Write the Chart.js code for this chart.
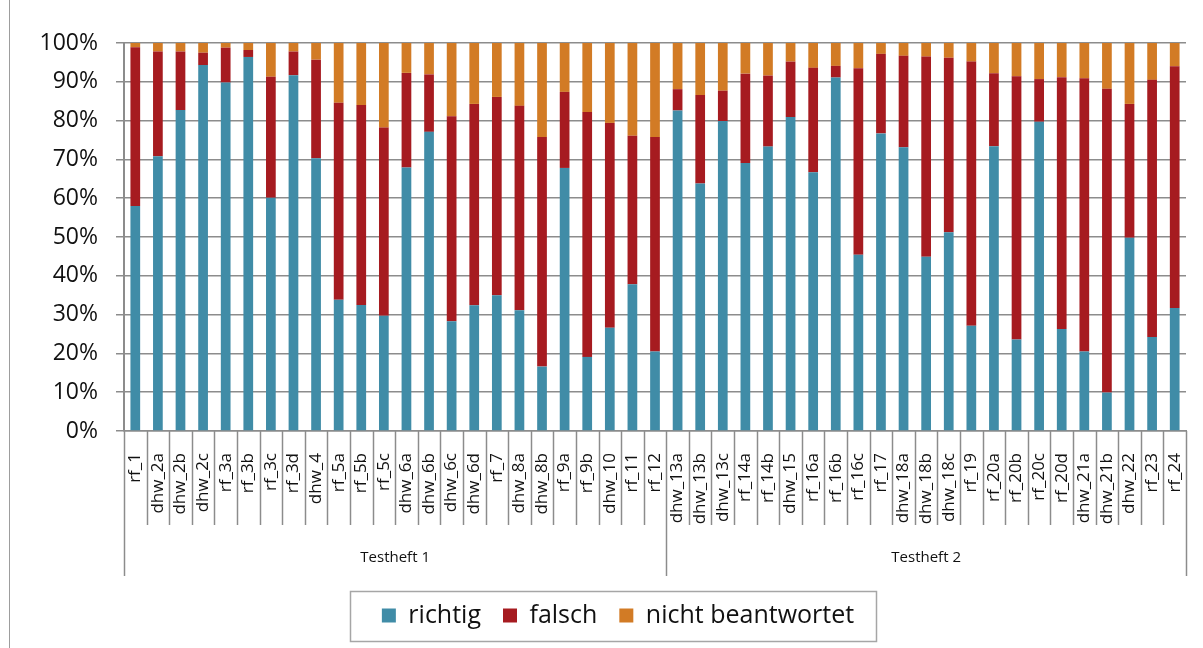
<!DOCTYPE html>
<html>
<head>
<meta charset="utf-8">
<script src="https://cdn.jsdelivr.net/npm/chart.js@4"></script>
<style>
  html, body { margin: 0; padding: 0; background: #fff; }
  #wrap { position: relative; width: 1203px; height: 648px; }
  #frame { position: absolute; left: 9px; top: 0; width: 0; height: 648px; border-left: 1px solid #9d9d9d; }
  canvas { position: absolute; left: 0; top: 0; }
</style>
</head>
<body>
<div id="wrap">
  <div id="frame"></div>
  <canvas id="chart" width="1203" height="648"></canvas>
</div>
<script>
// Aufgaben (Kategorien)
const categories = [
    'rf_1', 'dhw_2a', 'dhw_2b', 'dhw_2c', 'rf_3a', 'rf_3b', 'rf_3c', 'rf_3d', 'dhw_4',
    'rf_5a', 'rf_5b', 'rf_5c', 'dhw_6a', 'dhw_6b', 'dhw_6c', 'dhw_6d', 'rf_7', 'dhw_8a',
    'dhw_8b', 'rf_9a', 'rf_9b', 'dhw_10', 'rf_11', 'rf_12',
    'dhw_13a', 'dhw_13b', 'dhw_13c', 'rf_14a', 'rf_14b', 'dhw_15', 'rf_16a', 'rf_16b',
    'rf_16c', 'rf_17', 'dhw_18a', 'dhw_18b', 'dhw_18c', 'rf_19', 'rf_20a', 'rf_20b',
    'rf_20c', 'rf_20d', 'dhw_21a', 'dhw_21b', 'dhw_22', 'rf_23', 'rf_24'
];

// Testhefte (zweite Achsenebene)
const groups = ['Testheft 1', 'Testheft 2'];
const groupSizes = [24, 23];

// Anteile in %
const richtig = [
    58.0, 70.8, 82.7, 94.3, 89.8, 96.4, 60.1, 91.7, 70.3,
    33.8, 32.5, 29.7, 67.9, 77.1, 28.3, 32.4, 35.0, 31.1,
    16.6, 67.8, 19.1, 26.6, 37.8, 20.5,
    82.6, 63.8, 79.9, 69.1, 73.3, 80.9, 66.7, 91.1,
    45.4, 76.7, 73.1, 44.9, 51.2, 27.1, 73.4, 23.6,
    79.7, 26.3, 20.5, 9.9, 49.8, 24.2, 31.7
];
const falsch = [
    40.9, 27.0, 15.1, 3.2, 9.0, 1.8, 31.2, 6.1, 25.4,
    50.8, 51.5, 48.5, 24.4, 14.8, 52.8, 51.9, 51.1, 52.7,
    59.2, 19.6, 63.1, 52.8, 38.3, 55.3,
    5.5, 22.8, 7.8, 23.0, 18.3, 14.3, 26.9, 3.0,
    48.1, 20.5, 23.6, 51.6, 45.0, 68.1, 18.8, 67.8,
    11.0, 64.9, 70.4, 78.3, 34.5, 66.3, 62.3
];
const nichtBeantwortet = [
    1.1, 2.2, 2.2, 2.5, 1.2, 1.8, 8.7, 2.2, 4.3,
    15.4, 16.0, 21.8, 7.7, 8.1, 18.9, 15.7, 13.9, 16.2,
    24.2, 12.6, 17.8, 20.6, 23.9, 24.2,
    11.9, 13.4, 12.3, 7.9, 8.4, 4.8, 6.4, 5.9,
    6.5, 2.8, 3.3, 3.5, 3.8, 4.8, 7.8, 8.6,
    9.3, 8.8, 9.1, 11.8, 15.7, 9.5, 6.0
];

// Prozent-Achse
const yTicks = [0, 10, 20, 30, 40, 50, 60, 70, 80, 90, 100];

const gridColor = '#8c8c8c';

Chart.defaults.font.family = "'Open Sans', sans-serif";
Chart.defaults.color = '#111';

// zweite Ebene der Kategorienachse + Rahmen um die Legende
const groupAxis = {
    id: 'groupAxis',
    afterLayout(chart) {
        // Legende etwas nach rechts schieben, wie im Original
        chart.legend.left += 15;
        chart.legend.right += 15;
    },
    afterDraw(chart) {
        const { ctx, chartArea } = chart;
        const x = chart.scales.x;
        const half = (x.getPixelForValue(1) - x.getPixelForValue(0)) / 2;
        const base = chartArea.bottom;

        const edges = [];
        for (let i = 0; i < categories.length; i++) edges.push(x.getPixelForValue(i) - half);
        edges.push(x.getPixelForValue(categories.length - 1) + half);

        const groupEdges = [0];
        groupSizes.forEach(n => groupEdges.push(groupEdges[groupEdges.length - 1] + n));

        ctx.save();
        ctx.strokeStyle = gridColor;
        ctx.lineWidth = 1.5;
        edges.forEach((px, i) => {
            const long = groupEdges.includes(i);
            ctx.beginPath();
            ctx.moveTo(Math.round(px) + 0.5, base);
            ctx.lineTo(Math.round(px) + 0.5, long ? 576 : 525);
            ctx.stroke();
        });

        ctx.fillStyle = '#111';
        ctx.font = "15px 'Open Sans', sans-serif";
        ctx.textAlign = 'center';
        ctx.textBaseline = 'middle';
        groups.forEach((g, k) => {
            const mid = (edges[groupEdges[k]] + edges[groupEdges[k + 1]]) / 2;
            ctx.fillText(g, mid, 558);
        });

        // Legendenrahmen
        const hb = chart.legend.legendHitBoxes;
        if (hb && hb.length) {
            const first = hb[0], last = hb[hb.length - 1];
            const cy = first.top + first.height / 2;
            const left = first.left - 32;
            const right = last.left + last.width + 22;
            ctx.strokeStyle = '#a6a6a6';
            ctx.lineWidth = 1.5;
            ctx.strokeRect(Math.round(left) + 0.5, Math.round(cy - 25) + 0.5,
                Math.round(right - left), 50);
        }
        ctx.restore();
    }
};

const ctx = document.getElementById('chart').getContext('2d');
const chart = new Chart(ctx, {
    type: 'bar',
    data: {
        labels: categories,
        datasets: [
            { label: 'richtig', data: richtig, backgroundColor: '#408ca7' },
            { label: 'falsch', data: falsch, backgroundColor: '#a61b20' },
            { label: 'nicht beantwortet', data: nichtBeantwortet, backgroundColor: '#d27b25' }
        ]
    },
    options: {
        responsive: false,
        animation: false,
        datasets: {
            bar: { barPercentage: 0.43, categoryPercentage: 1, borderWidth: 0 }
        },
        layout: { padding: { top: 43, left: 20, right: 17, bottom: 10 } },
        scales: {
            x: {
                stacked: true,
                grid: { display: false, drawTicks: false },
                border: { display: true, color: gridColor, width: 1.5 },
                ticks: {
                    autoSkip: false,
                    minRotation: 90,
                    maxRotation: 90,
                    padding: 22,
                    color: '#111',
                    font: { size: 17 }
                },
                afterFit: function (scale) {
                    scale.height = 150;
                    scale.paddingLeft = 0;
                    scale.paddingRight = 0;
                }
            },
            y: {
                stacked: true,
                min: 0,
                max: 100,
                afterBuildTicks: function (scale) {
                    scale.ticks = yTicks.map(v => ({ value: v }));
                },
                grid: { color: gridColor, lineWidth: 1.5, drawTicks: true, tickLength: 8 },
                border: { display: true, color: gridColor, width: 2 },
                ticks: {
                    padding: 18,
                    color: '#111',
                    font: { size: 23 },
                    callback: function (v) { return v + '%'; }
                },
                afterFit: function (scale) { scale.width = 104; }
            }
        },
        plugins: {
            legend: {
                position: 'bottom',
                labels: {
                    boxWidth: 14,
                    boxHeight: 14,
                    padding: 22,
                    color: '#111',
                    font: { size: 25 }
                }
            },
            tooltip: { enabled: false }
        }
    },
    plugins: [groupAxis]
});
</script>
</body>
</html>
